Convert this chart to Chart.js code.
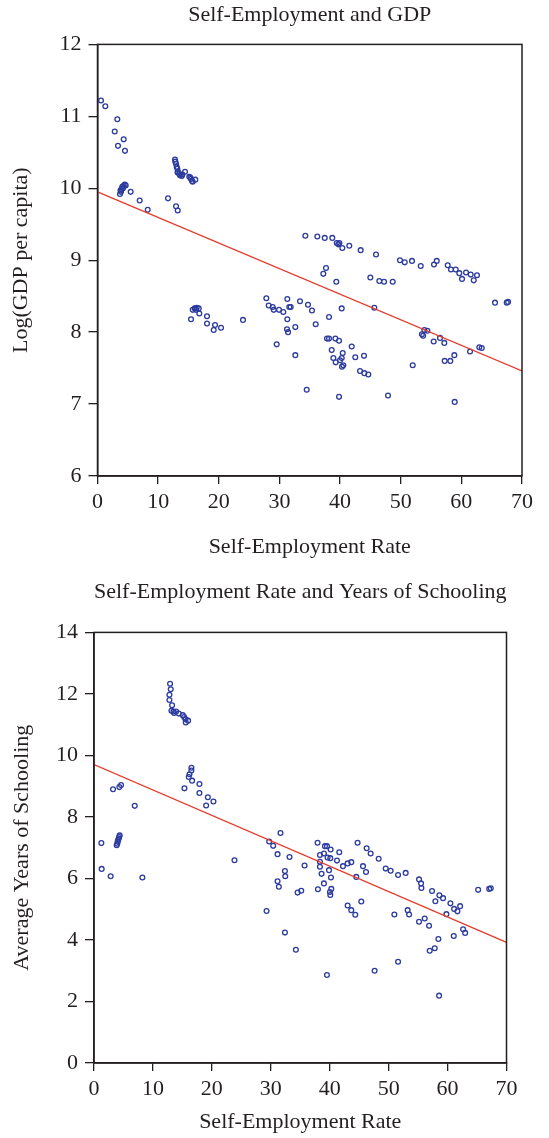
<!DOCTYPE html>
<html><head><meta charset="utf-8">
<script src="https://cdn.jsdelivr.net/npm/chart.js@4.4.1/dist/chart.umd.min.js"></script>
<style>
html,body{margin:0;padding:0;background:#fff;}
.box{position:absolute;left:0;width:549px;height:570px;}
</style></head><body>
<div class="box" style="top:0"><canvas id="c1" width="549" height="570"></canvas></div>
<div class="box" style="top:568px"><canvas id="c2" width="549" height="570"></canvas></div>
<script>
// ---------- Data: Self-Employment and GDP ----------
const gdpSelfEmp = [0.58,1.29,3.27,2.84,4.32,3.38,4.53,3.71,3.88,3.99,4.09,4.25,4.49,4.65,3.80,4.20,5.47,6.96,8.28,11.63,12.95,13.23,
12.78,12.83,12.95,13.06,13.16,13.27,13.49,13.89,14.43,15.14,15.42,15.70,16.13,13.20,13.60,14.00,15.30,15.60,
15.42,15.70,16.03,16.36,16.69,16.24,16.79,18.06,18.06,19.38,19.16,20.37,23.99,27.84,28.23,28.89,29.06,29.93,29.55,31.30,30.64,31.30,31.63,31.25,31.42,31.86,
34.27,36.25,37.47,38.72,39.45,39.88,39.70,40.37,41.52,43.40,45.93,49.88,50.66,51.86,53.30,55.49,55.94,57.75,58.29,59.07,59.66,60.11,60.77,61.54,62.04,62.58,
37.68,37.24,39.38,44.99,46.47,47.25,48.68,65.55,67.48,67.70,
33.39,34.71,35.37,32.62,32.62,35.98,38.18,40.27,45.65,37.85,38.18,39.22,39.83,38.62,38.89,39.28,40.27,40.44,40.54,40.32,39.99,41.92,42.51,43.95,43.29,44.00,44.66,
34.50,39.83,47.91,51.98,53.50,53.70,53.90,54.40,55.44,56.48,57.19,58.84,57.25,58.18,61.43,62.96,63.36,58.90];
const gdpLog = [11.22,11.14,10.96,10.79,10.68,10.59,10.52,9.92,9.95,9.99,10.02,10.03,10.05,10.04,9.97,10.00,9.95,9.83,9.70,9.86,9.75,9.69,
10.40,10.37,10.34,10.30,10.27,10.23,10.20,10.17,10.23,10.16,10.13,10.09,10.12,10.22,10.18,10.19,10.15,10.10,
8.18,8.31,8.33,8.34,8.33,8.31,8.26,8.22,8.12,8.10,8.03,8.06,8.17,8.47,8.37,8.35,8.31,8.31,7.83,8.46,8.28,8.18,8.35,8.04,8.00,8.35,
9.34,9.33,9.31,9.31,9.24,9.24,9.22,9.17,9.20,9.14,9.08,9.00,8.97,8.99,8.92,8.94,8.99,8.93,8.87,8.87,8.82,8.74,8.83,8.80,8.72,8.79,
8.89,8.81,8.70,8.76,8.71,8.70,8.70,8.41,8.41,8.42,
8.43,8.38,8.30,8.07,7.68,8.11,8.21,8.33,8.34,7.91,7.91,7.91,7.88,7.75,7.64,7.58,7.64,7.71,7.54,7.52,7.61,7.80,7.65,7.67,7.46,7.43,7.41,
7.20,7.10,7.12,7.54,7.97,7.95,8.03,8.02,7.87,7.92,7.85,7.68,7.60,7.60,7.73,7.79,7.78,7.03];
const gdpFitX = [0, 70];
const gdpFitY = [9.95, 7.46];

// ---------- Data: Self-Employment Rate and Years of Schooling ----------
const schSelfEmp = [12.91,13.02,12.80,12.80,13.25,13.14,13.59,13.93,13.48,14.38,15.06,15.29,15.52,15.97,15.57,
16.53,16.53,16.20,16.08,16.65,15.35,17.89,17.89,19.32,20.27,19.03,3.23,4.30,4.59,6.91,
4.36,4.27,4.19,4.10,4.02,3.95,3.85,1.25,1.30,2.83,8.21,23.84,
29.28,29.73,30.41,31.65,31.15,33.18,32.40,32.45,31.15,31.37,32.40,34.26,34.55,35.17,35.73,37.94,38.00,38.34,38.34,38.34,38.62,
39.02,39.19,39.53,39.64,39.88,40.10,40.15,40.21,39.02,40.27,40.04,40.10,39.53,41.23,41.62,42.25,43.04,43.66,43.04,43.66,44.34,
44.51,44.73,45.36,45.65,46.16,46.27,46.95,48.31,47.62,49.50,50.34,50.97,51.60,51.60,52.89,53.23,53.47,55.16,55.50,55.56,55.16,
56.12,56.86,57.37,57.93,58.61,59.24,59.80,60.48,61.11,61.67,62.13,56.97,57.82,58.44,61.05,62.64,62.98,58.56,65.19,67.06,67.33];
const schYears = [12.33,12.15,11.97,11.80,11.63,11.45,11.38,11.43,11.43,11.36,11.31,11.25,11.18,11.13,11.07,
9.60,9.51,9.39,9.30,9.18,8.93,9.07,8.78,8.64,8.50,8.37,8.90,8.97,9.04,8.36,
7.40,7.35,7.30,7.25,7.19,7.13,7.08,7.15,6.31,6.07,6.03,6.59,
4.94,7.20,7.06,7.48,6.79,6.70,6.24,6.07,5.91,5.73,4.24,3.68,5.54,5.60,6.42,7.16,5.65,6.76,6.54,6.38,6.15,
6.81,7.05,7.05,6.68,6.27,6.66,6.94,6.03,5.84,5.66,5.56,5.46,2.86,6.58,6.85,6.40,6.49,6.53,5.12,4.97,4.82,
6.05,7.16,5.25,6.40,6.21,6.98,6.81,6.64,3.00,6.32,6.25,4.83,3.29,6.11,6.18,4.97,4.83,5.97,5.84,5.69,4.59,
4.70,4.46,5.59,5.26,5.45,5.36,4.84,5.19,5.01,4.93,5.10,3.65,3.73,4.03,4.13,4.35,4.23,2.19,5.63,5.66,5.68];
const schFitX = [0, 70];
const schFitY = [9.70, 3.92];

// ---------- Tick labels ----------
const xTickValues = [0,10,20,30,40,50,60,70];
const gdpTickValues = [6,7,8,9,10,11,12];
const schTickValues = [0,2,4,6,8,10,12,14];

const FONT = 'Liberation Serif, Times New Roman, serif';
const INK = '#231f20';
const PT = '#2c3b9e';
const RED = '#e63a2c';

const framePlugin = {
  id: 'frame',
  afterDraw(chart) {
    const a = chart.chartArea, ctx = chart.ctx;
    ctx.save();
    ctx.strokeStyle = INK; ctx.lineWidth = 1.5;
    ctx.strokeRect(a.left, a.top, a.right - a.left, a.bottom - a.top);
    ctx.restore();
  }
};

function pts(xs, ys) { return xs.map((x, i) => ({x: x, y: ys[i]})); }

function makeChart(id, cfg) {
  return new Chart(document.getElementById(id), {
    type: 'scatter',
    data: {
      datasets: [
        { type: 'line', data: pts(cfg.fitX, cfg.fitY), borderColor: RED, borderWidth: 1.3,
          pointRadius: 0, fill: false, tension: 0 },
        { data: pts(cfg.xs, cfg.ys), pointStyle: 'circle', pointRadius: 2.4,
          pointBorderWidth: 1.3, borderColor: PT, backgroundColor: 'rgba(0,0,0,0)', showLine: false }
      ]
    },
    options: {
      responsive: false, animation: false,
      layout: { padding: { left: 0, right: cfg.padRight, top: 0, bottom: 0 } },
      plugins: {
        legend: { display: false }, tooltip: { enabled: false },
        title: { display: true, text: cfg.title, fullSize: false, color: INK,
          font: { family: FONT, size: 22, weight: 'normal' },
          padding: { top: cfg.titlePadTop, bottom: cfg.titlePadBottom } }
      },
      scales: {
        x: {
          type: 'linear', min: 0, max: 70,
          afterBuildTicks: s => { s.ticks = xTickValues.map(v => ({value: v})); },
          afterFit: s => { s.height = cfg.xHeight; s.paddingLeft = 0; s.paddingRight = 0; },
          grid: { display: true, drawOnChartArea: false, drawTicks: true, tickLength: 8, color: INK, lineWidth: 1.3 },
          border: { display: true, color: INK, width: 1.5 },
          ticks: { color: INK, padding: 5, maxRotation: 0, font: { family: FONT, size: 22 } },
          title: { display: true, text: 'Self-Employment Rate', color: INK,
            font: { family: FONT, size: 22 }, padding: { top: 0, bottom: cfg.xTitlePad } }
        },
        y: {
          type: 'linear', min: cfg.yMin, max: cfg.yMax,
          afterBuildTicks: s => { s.ticks = cfg.yTicks.map(v => ({value: v})); },
          afterFit: s => { s.width = cfg.yWidth; s.paddingTop = 0; s.paddingBottom = 0; },
          grid: { display: true, drawOnChartArea: false, drawTicks: true, tickLength: 9, color: INK, lineWidth: 1.3 },
          border: { display: true, color: INK, width: 1.5 },
          ticks: { color: INK, padding: 7, font: { family: FONT, size: 22 } },
          title: { display: true, text: cfg.yTitle, color: INK,
            font: { family: FONT, size: 22 }, padding: { top: cfg.yTitlePad, bottom: 0 } }
        }
      }
    },
    plugins: [framePlugin]
  });
}

makeChart('c1', {
  xs: gdpSelfEmp, ys: gdpLog, fitX: gdpFitX, fitY: gdpFitY,
  title: 'Self-Employment and GDP', titlePadTop: 2, titlePadBottom: 16,
  yTitle: 'Log(GDP per capita)', yMin: 6, yMax: 12, yTicks: gdpTickValues,
  yWidth: 97.5, padRight: 27, xHeight: 94, xTitlePad: 10, yTitlePad: 8
});
makeChart('c2', {
  xs: schSelfEmp, ys: schYears, fitX: schFitX, fitY: schFitY,
  title: 'Self-Employment Rate and Years of Schooling', titlePadTop: 11, titlePadBottom: 27,
  yTitle: 'Average Years of Schooling', yMin: 0, yMax: 14, yTicks: schTickValues,
  yWidth: 94, padRight: 42.5, xHeight: 75, xTitlePad: 3, yTitlePad: 9
});
</script>
</body></html>
